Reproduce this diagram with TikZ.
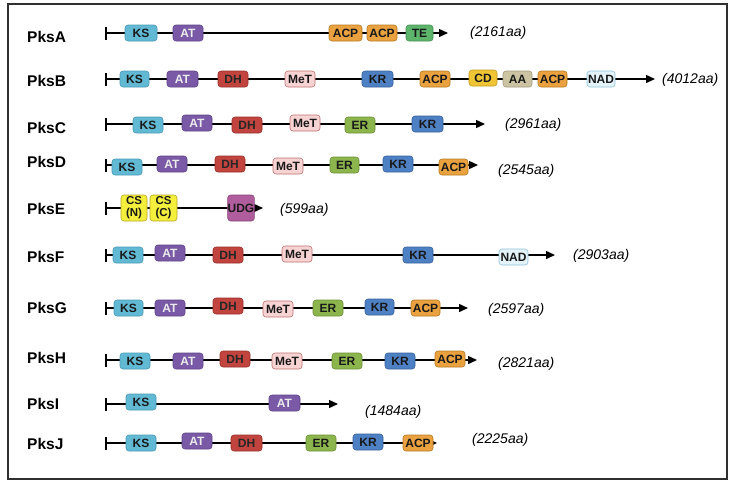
\documentclass[tikz,border=0pt]{standalone}
\usepackage{fontspec}
\setmainfont{Liberation Sans}
\usetikzlibrary{arrows.meta}
\definecolor{ksF}{HTML}{62B9D4}\definecolor{ksD}{HTML}{4A9AB5}
\definecolor{atF}{HTML}{7A5AA6}\definecolor{atD}{HTML}{5E4488}
\definecolor{dhF}{HTML}{C2443F}\definecolor{dhD}{HTML}{9A302C}
\definecolor{metF}{HTML}{F7D3D3}\definecolor{metD}{HTML}{C07070}
\definecolor{erF}{HTML}{8DB54E}\definecolor{erD}{HTML}{6E9238}
\definecolor{krF}{HTML}{4E80C4}\definecolor{krD}{HTML}{3A629E}
\definecolor{acpF}{HTML}{E9A23F}\definecolor{acpD}{HTML}{B87A22}
\definecolor{teF}{HTML}{5DB56C}\definecolor{teD}{HTML}{449253}
\definecolor{cdF}{HTML}{F0C535}\definecolor{cdD}{HTML}{C49A1E}
\definecolor{aaF}{HTML}{CBC3A2}\definecolor{aaD}{HTML}{A29A7C}
\definecolor{nadF}{HTML}{E4F2FA}\definecolor{nadD}{HTML}{8EC2DC}
\definecolor{csF}{HTML}{F4EE3C}\definecolor{csD}{HTML}{B8A82A}
\definecolor{udgF}{HTML}{B05D9E}\definecolor{udgD}{HTML}{864478}
\definecolor{frameC}{HTML}{303030}
\tikzset{
  dombox/.style={rounded corners=3pt, inner sep=0pt, minimum height=16pt, line width=0.6pt,
    font=\bfseries\fontsize{12}{12}\selectfont, text=black!90},
  dks/.style={fill=ksF, draw=ksD},
  dat/.style={fill=atF, draw=atD, text=white!92!black},
  ddh/.style={fill=dhF, draw=dhD, text=black!85},
  dmet/.style={fill=metF, draw=metD},
  der/.style={fill=erF, draw=erD},
  dkr/.style={fill=krF, draw=krD},
  dacp/.style={fill=acpF, draw=acpD},
  dte/.style={fill=teF, draw=teD},
  dcd/.style={fill=cdF, draw=cdD},
  daa/.style={fill=aaF, draw=aaD},
  dnad/.style={fill=nadF, draw=nadD},
  dcs/.style={fill=csF, draw=csD, minimum height=26pt, align=center,
    font=\bfseries\fontsize{11.5}{12}\selectfont},
  dudg/.style={fill=udgF, draw=udgD, minimum height=26pt},
  protline/.style={line width=1.4pt, {Bar[width=13pt,line width=1.6pt]}-{Triangle[length=9pt,width=8pt]}},
  pkslabel/.style={anchor=west, inner sep=0pt, font=\bfseries\fontsize{15.5}{15.5}\selectfont},
  aalabel/.style={anchor=west, inner sep=0pt, font=\itshape\fontsize{14}{14}\selectfont},
}
\newcommand\pksdom[6]{\node[dombox,#2,minimum width={(#4-#3)*1pt}] (#1) at ({(#3+#4)/2},#5) {#6};}
\begin{document}
\begin{tikzpicture}[x=1pt,y=-1pt]
\useasboundingbox (0,0) rectangle (735,490);
\fill[white] (0,0) rectangle (735,490);
\draw[line width=1.8pt, draw=frameC] (8,4) rectangle (727,479);

% ---- PksA
\node[pkslabel] (lA) at (27,37) {PksA};
\coordinate (A0) at (105,33); \coordinate (AE) at (448,33);
\draw[protline] (A0) -- (AE);
\pksdom{A1}{dks}{125}{157}{33}{KS}
\pksdom{A2}{dat}{173}{203}{33}{AT}
\pksdom{A3}{dacp}{329}{362}{33}{ACP}
\pksdom{A4}{dacp}{367}{397}{33}{ACP}
\pksdom{A5}{dte}{406}{433}{33}{TE}
\node[aalabel] (nA) at (470,33) {(2161aa)};

% ---- PksB
\node[pkslabel] (lB) at (27,81) {PksB};
\coordinate (B0) at (105,79); \coordinate (BE) at (655,79);
\draw[protline] (B0) -- (BE);
\pksdom{B1}{dks}{120}{149}{79}{KS}
\pksdom{B2}{dat}{167}{198}{79}{AT}
\pksdom{B3}{ddh}{218}{248}{79}{DH}
\pksdom{B4}{dmet}{285}{315}{79}{MeT}
\pksdom{B5}{dkr}{362}{393}{79}{KR}
\pksdom{B6}{dacp}{420}{450}{79}{ACP}
\pksdom{B7}{dcd}{469}{497}{78}{CD}
\pksdom{B8}{daa}{503}{532}{79}{AA}
\pksdom{B9}{dacp}{538}{567}{79}{ACP}
\pksdom{B10}{dnad}{587}{615}{79}{NAD}
\node[aalabel] (nB) at (662,80) {(4012aa)};

% ---- PksC
\node[pkslabel] (lC) at (27,128) {PksC};
\coordinate (C0) at (105,124); \coordinate (CE) at (485,124);
\draw[protline] (C0) -- (CE);
\pksdom{C1}{dks}{133}{163}{125}{KS}
\pksdom{C2}{dat}{182}{212}{123}{AT}
\pksdom{C3}{ddh}{232}{262}{125}{DH}
\pksdom{C4}{dmet}{290}{320}{123}{MeT}
\pksdom{C5}{der}{345}{375}{125}{ER}
\pksdom{C6}{dkr}{412}{443}{124}{KR}
\node[aalabel] (nC) at (505,125) {(2961aa)};

% ---- PksD
\node[pkslabel] (lD) at (27,162) {PksD};
\coordinate (D0) at (105,165); \coordinate (DE) at (478,165);
\draw[protline] (D0) -- (DE);
\pksdom{D1}{dks}{112}{142}{167}{KS}
\pksdom{D2}{dat}{157}{187}{164}{AT}
\pksdom{D3}{ddh}{215}{245}{164}{DH}
\pksdom{D4}{dmet}{273}{303}{166}{MeT}
\pksdom{D5}{der}{330}{359}{165}{ER}
\pksdom{D6}{dkr}{383}{413}{164}{KR}
\pksdom{D7}{dacp}{439}{468}{167}{ACP}
\node[aalabel] (nD) at (498,171) {(2545aa)};

% ---- PksE
\node[pkslabel] (lE) at (27,209) {PksE};
\coordinate (E0) at (105,208); \coordinate (EE) at (263,208);
\draw[protline] (E0) -- (EE);
\pksdom{E1}{dcs}{121}{147}{208}{CS\\(N)}
\pksdom{E2}{dcs}{150}{177}{208}{CS\\(C)}
\pksdom{E3}{dudg}{228}{254}{208}{UDG}
\node[aalabel] (nE) at (280,210) {(599aa)};

% ---- PksF
\node[pkslabel] (lF) at (27,257) {PksF};
\coordinate (F0) at (105,255); \coordinate (FE) at (555,255);
\draw[protline] (F0) -- (FE);
\pksdom{F1}{dks}{113}{143}{255}{KS}
\pksdom{F2}{dat}{155}{185}{253}{AT}
\pksdom{F3}{ddh}{213}{243}{255}{DH}
\pksdom{F4}{dmet}{282}{312}{254}{MeT}
\pksdom{F5}{dkr}{403}{433}{255}{KR}
\pksdom{F6}{dnad}{499}{528}{257}{NAD}
\node[aalabel] (nF) at (573,256) {(2903aa)};

% ---- PksG
\node[pkslabel] (lG) at (27,308) {PksG};
\coordinate (G0) at (105,308); \coordinate (GE) at (468,308);
\draw[protline] (G0) -- (GE);
\pksdom{G1}{dks}{114}{143}{308}{KS}
\pksdom{G2}{dat}{155}{185}{308}{AT}
\pksdom{G3}{ddh}{213}{243}{306}{DH}
\pksdom{G4}{dmet}{263}{293}{309}{MeT}
\pksdom{G5}{der}{313}{343}{308}{ER}
\pksdom{G6}{dkr}{365}{394}{307}{KR}
\pksdom{G7}{dacp}{411}{440}{308}{ACP}
\node[aalabel] (nG) at (488,310) {(2597aa)};

% ---- PksH
\node[pkslabel] (lH) at (27,358) {PksH};
\coordinate (H0) at (105,360); \coordinate (HE) at (477,360);
\draw[protline] (H0) -- (HE);
\pksdom{H1}{dks}{120}{150}{361}{KS}
\pksdom{H2}{dat}{173}{203}{361}{AT}
\pksdom{H3}{ddh}{220}{250}{359}{DH}
\pksdom{H4}{dmet}{272}{302}{361}{MeT}
\pksdom{H5}{der}{332}{362}{361}{ER}
\pksdom{H6}{dkr}{385}{415}{361}{KR}
\pksdom{H7}{dacp}{435}{465}{359}{ACP}
\node[aalabel] (nH) at (498,364) {(2821aa)};

% ---- PksI
\node[pkslabel] (lI) at (27,404) {PksI};
\coordinate (I0) at (105,404); \coordinate (IE) at (338,404);
\draw[protline] (I0) -- (IE);
\pksdom{I1}{dks}{126}{156}{402}{KS}
\pksdom{I2}{dat}{269}{300}{403}{AT}
\node[aalabel] (nI) at (365,412) {(1484aa)};

% ---- PksJ
\node[pkslabel] (lJ) at (27,444) {PksJ};
\coordinate (J0) at (105,443); \coordinate (JE) at (437,443);
\draw[protline] (J0) -- (JE);
\pksdom{J1}{dks}{126}{156}{443}{KS}
\pksdom{J2}{dat}{182}{212}{441}{AT}
\pksdom{J3}{ddh}{231}{262}{443}{DH}
\pksdom{J4}{der}{306}{336}{443}{ER}
\pksdom{J5}{dkr}{353}{383}{442}{KR}
\pksdom{J6}{dacp}{403}{433}{443}{ACP}
\node[aalabel] (nJ) at (472,440) {(2225aa)};
\end{tikzpicture}
\end{document}
